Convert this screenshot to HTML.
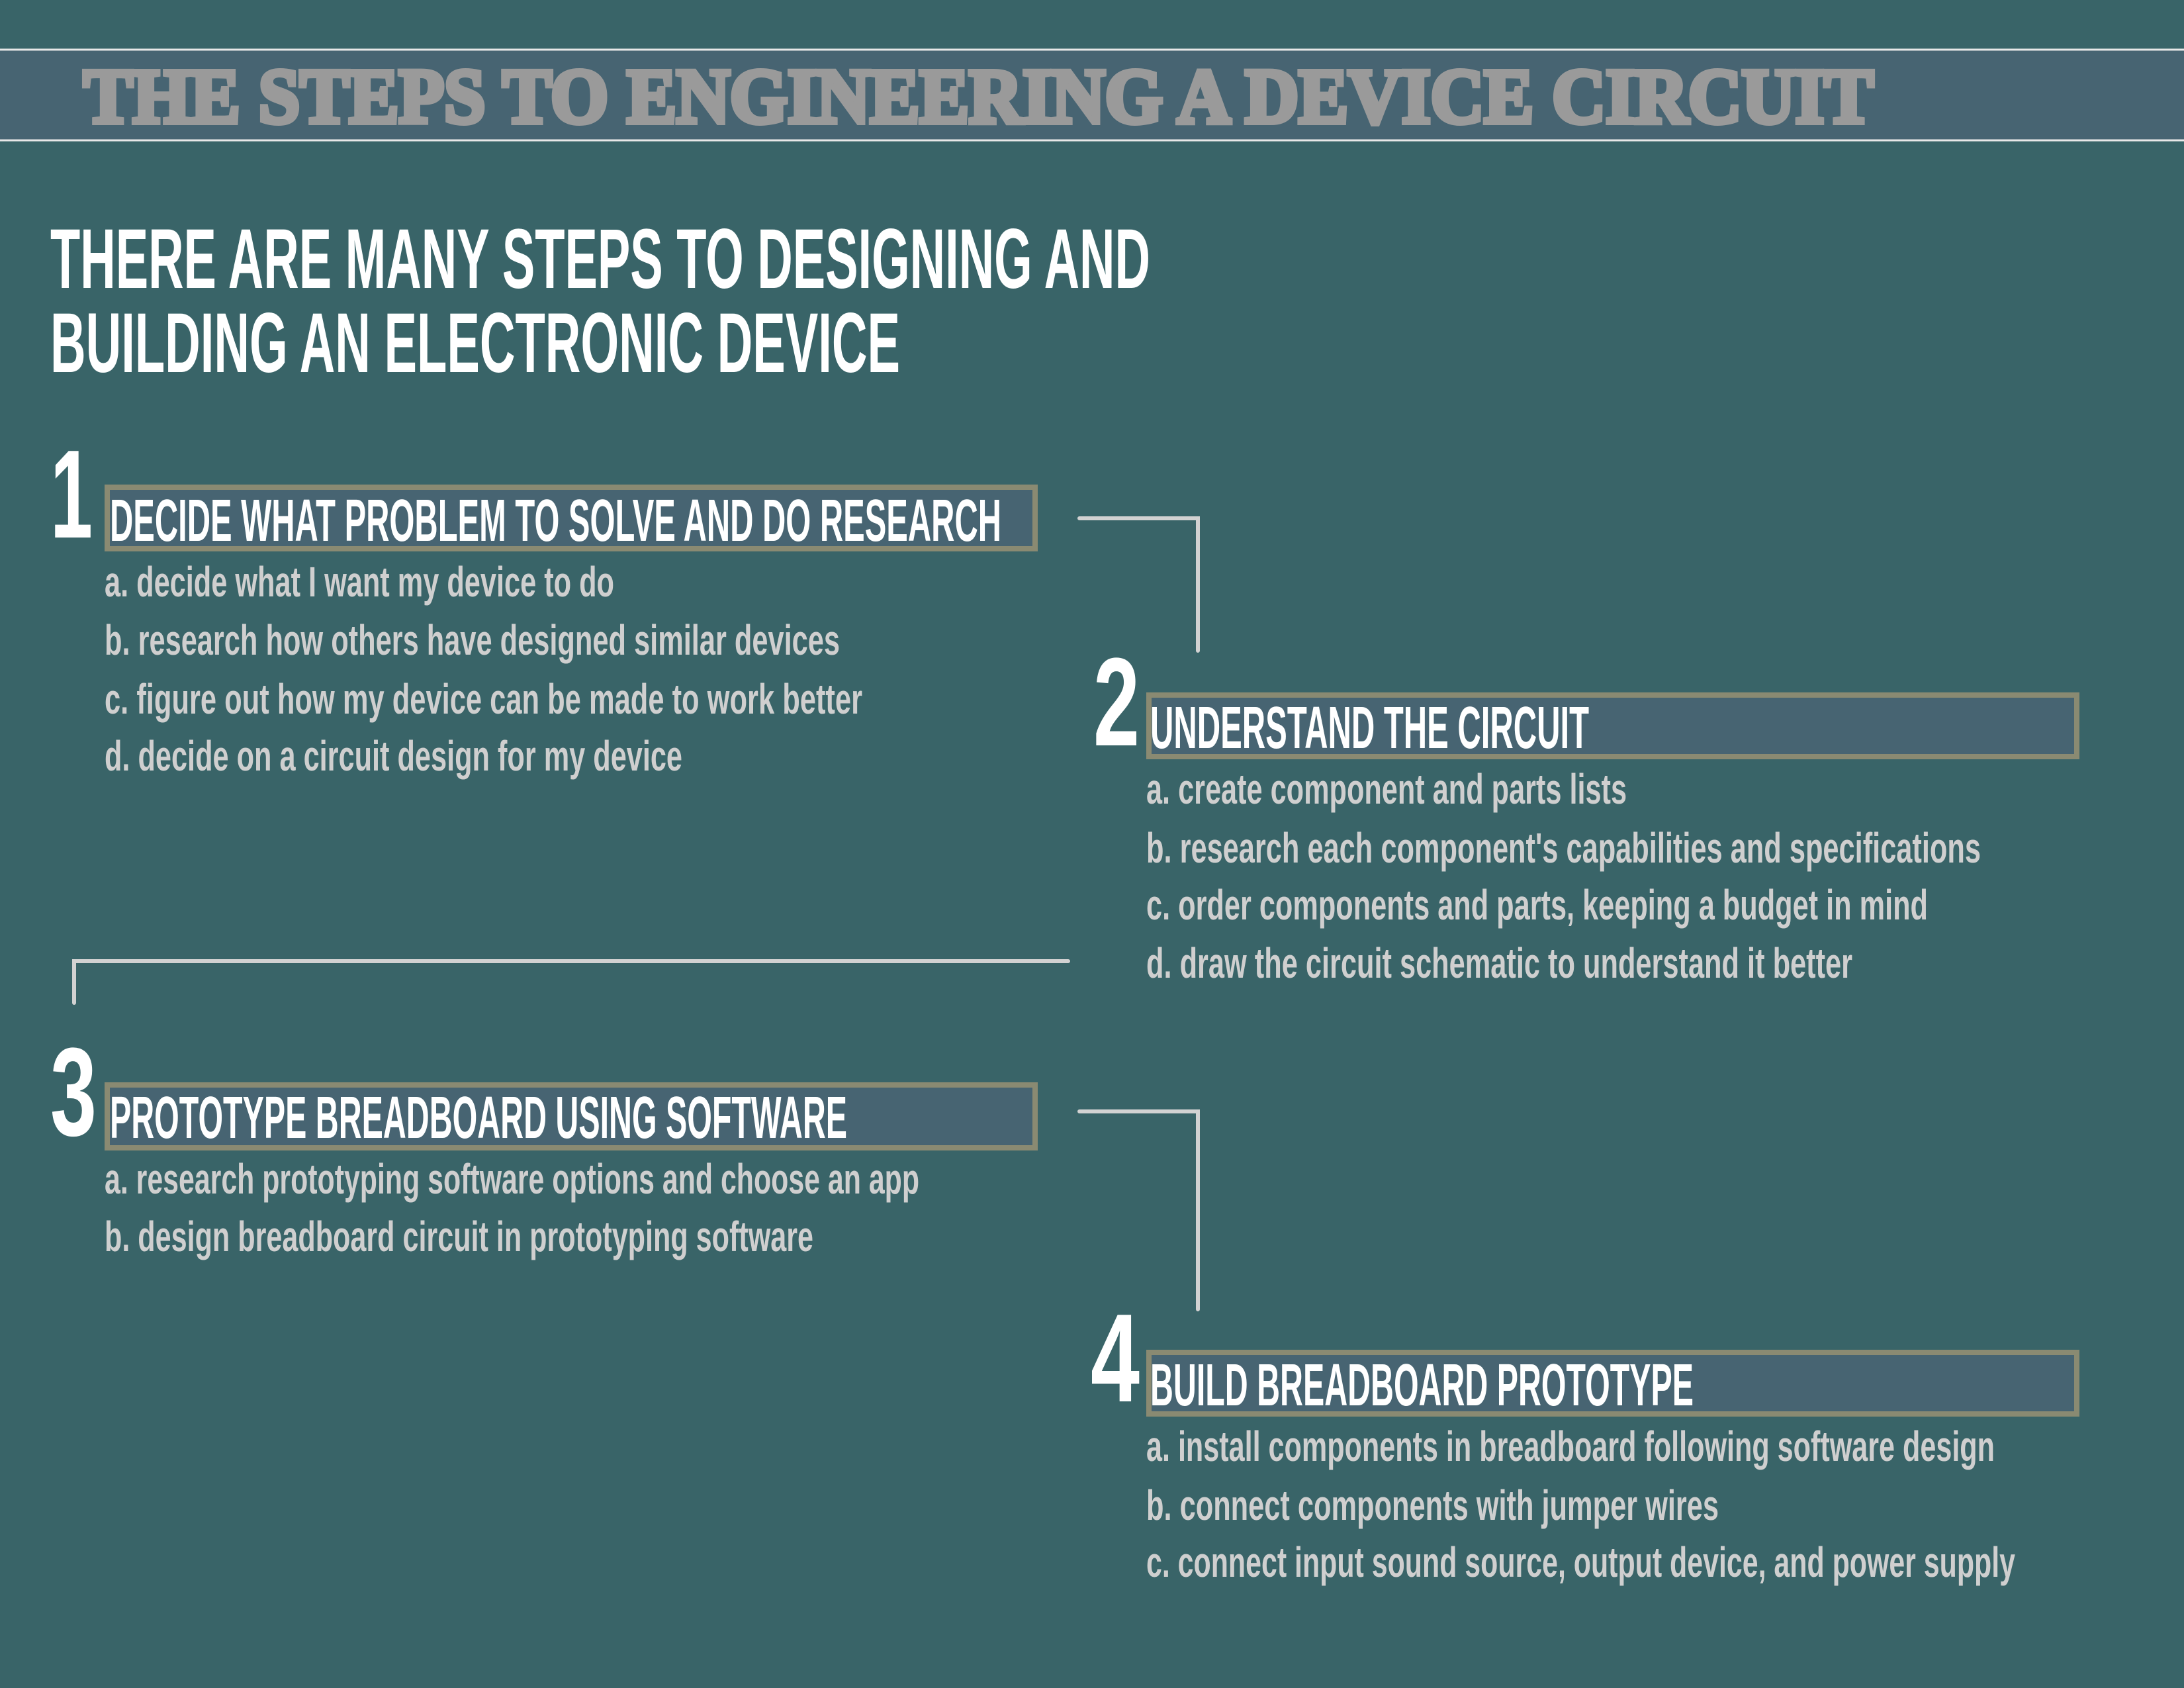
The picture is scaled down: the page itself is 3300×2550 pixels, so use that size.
<!DOCTYPE html>
<html><head><meta charset="utf-8"><style>
html,body{margin:0;padding:0;background:#396468;}
svg{display:block}
</style></head><body>
<svg width="3300" height="2550" viewBox="0 0 3300 2550" xmlns="http://www.w3.org/2000/svg">
<rect width="3300" height="2550" fill="#396468"/>
<rect x="0" y="74" width="3300" height="139" fill="#476472"/>
<line x1="0" y1="75" x2="3300" y2="75" stroke="#e8e8e8" stroke-width="3"/>
<line x1="0" y1="212" x2="3300" y2="212" stroke="#e8e8e8" stroke-width="3"/>
<text x="126" y="185" font-family="Liberation Serif, serif" font-weight="bold" font-size="118" fill="#9a9a9a" stroke="#9a9a9a" stroke-width="8" textLength="2705" lengthAdjust="spacingAndGlyphs">THE STEPS TO ENGINEERING A DEVICE CIRCUIT</text>

<g font-family="Liberation Sans Narrow, Liberation Sans, sans-serif" font-weight="bold" fill="#ffffff">
<text x="76" y="435" font-size="128" textLength="1662" lengthAdjust="spacingAndGlyphs">THERE ARE MANY STEPS TO DESIGNING AND</text>
<text x="76" y="562" font-size="128" textLength="1284" lengthAdjust="spacingAndGlyphs">BUILDING AN ELECTRONIC DEVICE</text>

<text x="76" y="812" font-size="190" textLength="64" lengthAdjust="spacingAndGlyphs">1</text>
<text x="1652" y="1126" font-size="190" textLength="70" lengthAdjust="spacingAndGlyphs">2</text>
<text x="76" y="1715" font-size="190" textLength="70" lengthAdjust="spacingAndGlyphs">3</text>
<text x="1648" y="2117" font-size="190" textLength="74" lengthAdjust="spacingAndGlyphs">4</text>
</g>

<g fill="#476472" stroke="#8a8a72" stroke-width="8">
<rect x="162" y="736" width="1402" height="93"/>
<rect x="1736" y="1050" width="1402" height="93"/>
<rect x="162" y="1639" width="1402" height="95"/>
<rect x="1736" y="2043" width="1402" height="93"/>
</g>

<g font-family="Liberation Sans Narrow, Liberation Sans, sans-serif" font-weight="bold" fill="#ffffff" font-size="90">
<text x="166" y="817" textLength="1347" lengthAdjust="spacingAndGlyphs">DECIDE WHAT PROBLEM TO SOLVE AND DO RESEARCH</text>
<text x="1738" y="1130" textLength="663" lengthAdjust="spacingAndGlyphs">UNDERSTAND THE CIRCUIT</text>
<text x="166" y="1719" textLength="1114" lengthAdjust="spacingAndGlyphs">PROTOTYPE BREADBOARD USING SOFTWARE</text>
<text x="1738" y="2123" textLength="821" lengthAdjust="spacingAndGlyphs">BUILD BREADBOARD PROTOTYPE</text>
</g>

<g font-family="Liberation Sans Narrow, Liberation Sans, sans-serif" font-weight="bold" fill="#cfcfcf" font-size="64">
<text x="158" y="901" textLength="770" lengthAdjust="spacingAndGlyphs">a. decide what I want my device to do</text>
<text x="158" y="989" textLength="1111" lengthAdjust="spacingAndGlyphs">b. research how others have designed similar devices</text>
<text x="158" y="1078" textLength="1145" lengthAdjust="spacingAndGlyphs">c. figure out how my device can be made to work better</text>
<text x="158" y="1164" textLength="873" lengthAdjust="spacingAndGlyphs">d. decide on a circuit design for my device</text>

<text x="1732" y="1214" textLength="726" lengthAdjust="spacingAndGlyphs">a. create component and parts lists</text>
<text x="1732" y="1303" textLength="1261" lengthAdjust="spacingAndGlyphs">b. research each component's capabilities and specifications</text>
<text x="1732" y="1389" textLength="1181" lengthAdjust="spacingAndGlyphs">c. order components and parts, keeping a budget in mind</text>
<text x="1732" y="1477" textLength="1067" lengthAdjust="spacingAndGlyphs">d. draw the circuit schematic to understand it better</text>

<text x="158" y="1803" textLength="1231" lengthAdjust="spacingAndGlyphs">a. research prototyping software options and choose an app</text>
<text x="158" y="1890" textLength="1071" lengthAdjust="spacingAndGlyphs">b. design breadboard circuit in prototyping software</text>

<text x="1732" y="2207" textLength="1282" lengthAdjust="spacingAndGlyphs">a. install components in breadboard following software design</text>
<text x="1732" y="2296" textLength="865" lengthAdjust="spacingAndGlyphs">b. connect components with jumper wires</text>
<text x="1732" y="2382" textLength="1313" lengthAdjust="spacingAndGlyphs">c. connect input sound source, output device, and power supply</text>
</g>

<g fill="none" stroke="#d2d2d2" stroke-width="6" stroke-linecap="round">
<polyline points="1631,783 1810,783 1810,983"/>
<polyline points="1614,1452 112,1452 112,1515"/>
<polyline points="1631,1679 1810,1679 1810,1978"/>
</g>
</svg>
</body></html>
